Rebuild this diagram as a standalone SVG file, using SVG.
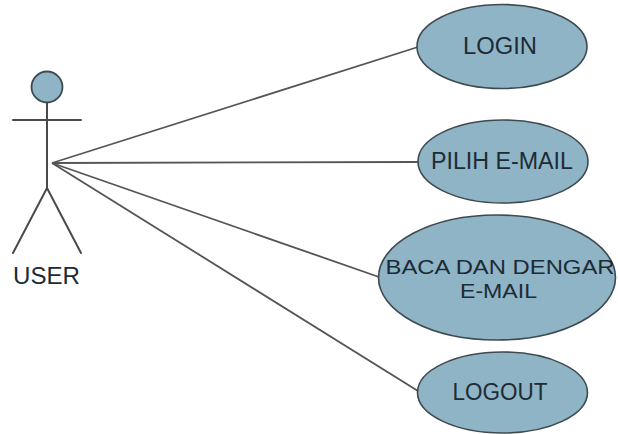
<svg xmlns="http://www.w3.org/2000/svg" width="618" height="434" viewBox="0 0 618 434">
  <style>
    .bg { fill: #ffffff; }
    .usecase ellipse { fill: #8fb4c6; stroke: #3f4a50; stroke-width: 1.6; }
    .label { font-family: "Liberation Sans", Arial, sans-serif; font-size: 23px; fill: #1c2b35; text-anchor: middle; }
    .label.tight { font-size: 21px; }
    .actor-line { stroke: #4a4a4a; stroke-width: 2; fill: none; stroke-linecap: round; }
    .assoc { stroke: #555555; stroke-width: 1.8; fill: none; }
  </style>
  <rect class="bg" x="0" y="0" width="618" height="434"/>

  <!-- associations from the actor to each use case -->
  <g id="connectors">
    <line class="assoc" x1="52" y1="163" x2="418" y2="47"/>
    <line class="assoc" x1="52" y1="163" x2="418" y2="162"/>
    <line class="assoc" x1="52" y1="163" x2="379" y2="277"/>
    <line class="assoc" x1="52" y1="163" x2="418" y2="391"/>
  </g>

  <!-- actor -->
  <g id="user">
    <line class="actor-line" x1="47" y1="102" x2="47" y2="188"/>
    <line class="actor-line" x1="13" y1="120" x2="81" y2="120"/>
    <line class="actor-line" x1="47" y1="188" x2="13" y2="253"/>
    <line class="actor-line" x1="47" y1="188" x2="81" y2="253"/>
    <circle cx="47" cy="87" r="15.5" fill="#8fb4c6" stroke="#3f4a50" stroke-width="1.8"/>
    <text class="label" x="46.5" y="284" textLength="67" lengthAdjust="spacingAndGlyphs">USER</text>
  </g>

  <!-- use cases -->
  <g id="login" class="usecase">
    <ellipse cx="502" cy="46.5" rx="85" ry="42"/>
    <text class="label" x="500" y="54" textLength="74" lengthAdjust="spacingAndGlyphs">LOGIN</text>
  </g>

  <g id="pilih-email" class="usecase">
    <ellipse cx="503" cy="161.5" rx="85" ry="41.5"/>
    <text class="label" x="502" y="168.5" textLength="142" lengthAdjust="spacingAndGlyphs">PILIH E-MAIL</text>
  </g>

  <g id="baca-dengar-email" class="usecase">
    <ellipse cx="497" cy="277.5" rx="118.5" ry="62.5"/>
    <text class="label tight" x="500" y="274" textLength="229" lengthAdjust="spacingAndGlyphs">BACA DAN DENGAR</text>
    <text class="label tight" x="498.5" y="298" textLength="77" lengthAdjust="spacingAndGlyphs">E-MAIL</text>
  </g>

  <g id="logout" class="usecase">
    <ellipse cx="502.5" cy="392.5" rx="85" ry="40.5"/>
    <text class="label" x="500" y="400" textLength="95" lengthAdjust="spacingAndGlyphs">LOGOUT</text>
  </g>
</svg>
